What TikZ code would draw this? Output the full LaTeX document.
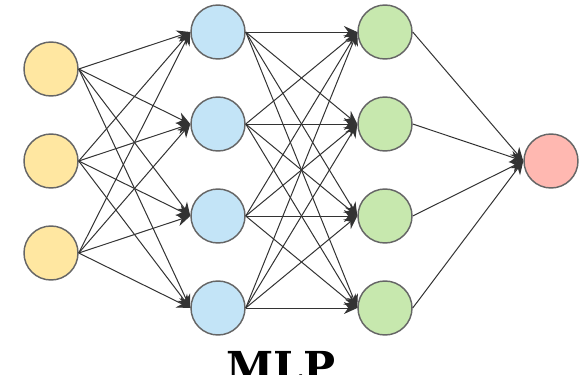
\documentclass[tikz,border=0pt]{standalone}
\usepackage{fontspec}
\newfontfamily\titlefont{DejaVu Serif}
\usetikzlibrary{arrows.meta}

\definecolor{inputfill}{HTML}{FFE7A1}
\definecolor{hiddenfill}{HTML}{C3E4F7}
\definecolor{secondfill}{HTML}{C7E8AE}
\definecolor{outputfill}{HTML}{FFB8B1}
\definecolor{ringgray}{HTML}{666666}
\definecolor{wiregray}{HTML}{333333}

\tikzset{
  neuron/.style={circle, draw=ringgray, line width=1.1pt,
    minimum size=40.5pt, inner sep=0pt},
  wire/.style={draw=wiregray, line width=0.75pt,
    -{Stealth[length=10pt,width=9pt]}}
}

\begin{document}
\begin{tikzpicture}[x=0.75pt,y=-0.75pt]
    \useasboundingbox (0,0) rectangle (586,375);

    % Input layer
    \foreach \i/\y in {1/69,2/161,3/253}
      \node[neuron, fill=inputfill] (in\i) at (51,\y) {};

    % First hidden layer
    \foreach \i/\y in {1/32,2/124,3/216,4/308}
      \node[neuron, fill=hiddenfill] (ha\i) at (218,\y) {};

    % Second hidden layer
    \foreach \i/\y in {1/32,2/124,3/216,4/308}
      \node[neuron, fill=secondfill] (hb\i) at (385,\y) {};

    % Output
    \node[neuron, fill=outputfill] (out) at (551,161) {};

    % Draw Arrows
    \foreach \i in {1,2,3}
      \foreach \j in {1,2,3,4}
        \draw[wire] (in\i.east) -- (ha\j.west);
    \foreach \i in {1,2,3,4}
      \foreach \j in {1,2,3,4}
        \draw[wire] (ha\i.east) -- (hb\j.west);
    \foreach \i in {1,2,3,4}
      \draw[wire] (hb\i.east) -- (out.west);

    % Text labels
    \node[anchor=north, inner sep=0pt] (caption) at (281,351)
      {\titlefont\bfseries\fontsize{32}{38}\selectfont MLP};
\end{tikzpicture}
\end{document}
